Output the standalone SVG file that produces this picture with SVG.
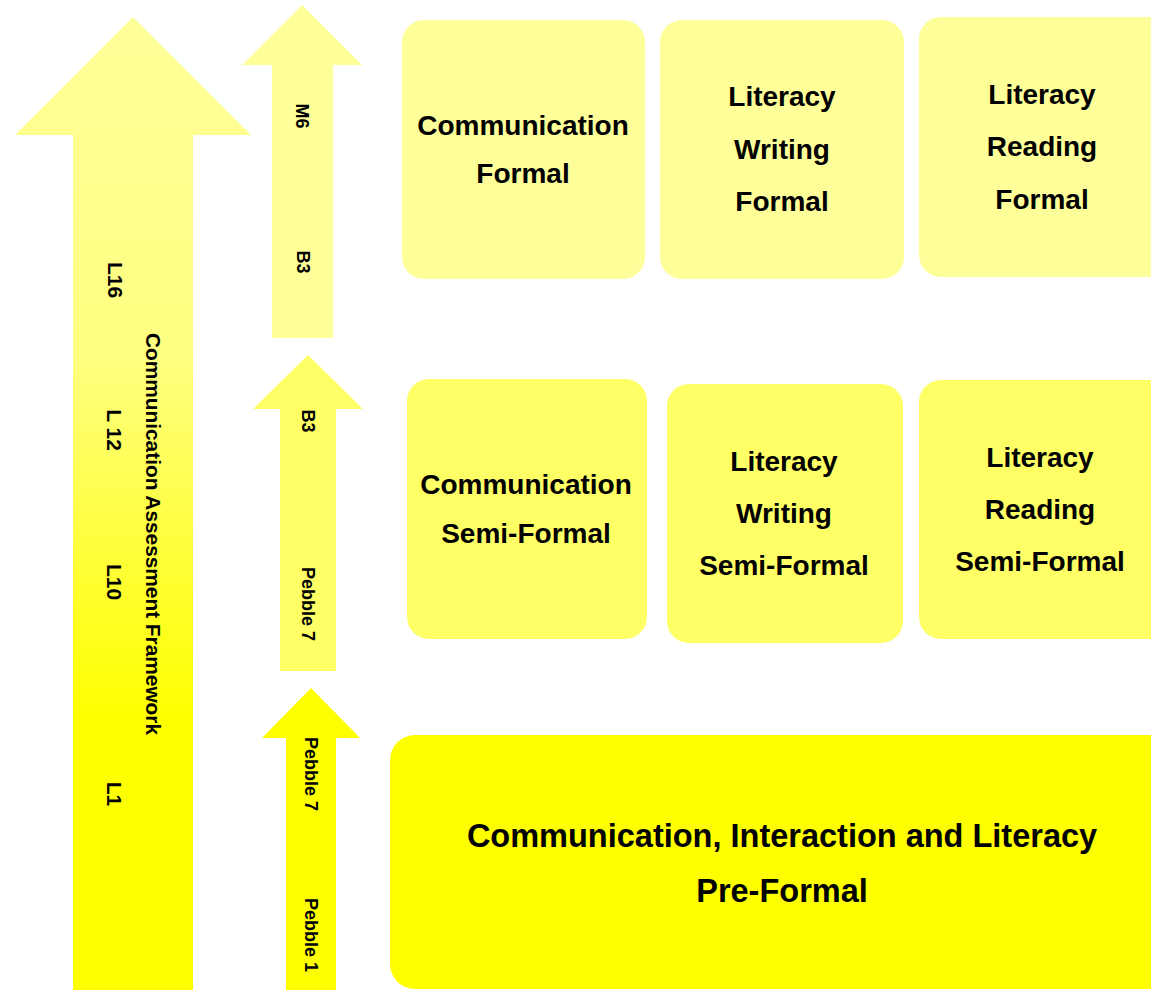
<svg xmlns="http://www.w3.org/2000/svg" width="1151" height="990" viewBox="0 0 1151 990">
<defs>
<linearGradient id="bigGrad" gradientUnits="userSpaceOnUse" x1="0" y1="17" x2="0" y2="990">
<stop offset="0" stop-color="#FFFF99"/>
<stop offset="0.35" stop-color="#FFFF80"/>
<stop offset="0.72" stop-color="#FFFF00"/>
<stop offset="1" stop-color="#FFFF00"/>
</linearGradient>
</defs>
<style>
text{font-family:"Liberation Sans",Arial,sans-serif;font-weight:bold;fill:#000;text-anchor:middle}
.lvl1{fill:#FFFF99}
.lvl2{fill:#FFFF66}
.lvl3{fill:#FFFF00}
.big{font-size:21px}
.small{font-size:18px}
.box{font-size:28px}
.wide{font-size:32.5px}
</style>
<rect width="1151" height="990" fill="#FFFFFF"/>

<g id="arrow-caf">
<polygon points="133,17 251,135 193,135 193,990 73,990 73,135 15,135" fill="url(#bigGrad)"/>
<text class="big" transform="translate(108,280) rotate(90)">L16</text>
<text class="big" transform="translate(107,430) rotate(90)">L 12</text>
<text class="big" transform="translate(107,582) rotate(90)">L10</text>
<text class="big" transform="translate(107,794) rotate(90)">L1</text>
<text class="big" transform="translate(146,534) rotate(90)" textLength="402" lengthAdjust="spacingAndGlyphs">Communication Assessment Framework</text>
</g>

<g id="arrow-formal">
<polygon class="lvl1" points="302,5 362,65 333,65 333,338 272,338 272,65 242,65"/>
<text class="small" transform="translate(296,116) rotate(90)">M6</text>
<text class="small" transform="translate(297,262) rotate(90)">B3</text>
</g>

<g id="arrow-semiformal">
<polygon class="lvl2" points="308,355 363,409 336,409 336,671 280,671 280,409 253,409"/>
<text class="small" transform="translate(302,421) rotate(90)">B3</text>
<text class="small" transform="translate(302,604) rotate(90)">Pebble 7</text>
</g>

<g id="arrow-preformal">
<polygon class="lvl3" points="311,688 360,738 336,738 336,990 286,990 286,738 262,738"/>
<text class="small" transform="translate(305,774) rotate(90)">Pebble 7</text>
<text class="small" transform="translate(305,935) rotate(90)">Pebble 1</text>
</g>

<g id="box-comm-formal">
<rect class="lvl1" x="402" y="20" width="243" height="259" rx="22"/>
<text class="box" x="523" y="135">Communication</text>
<text class="box" x="523" y="183">Formal</text>
</g>

<g id="box-writing-formal">
<rect class="lvl1" x="660" y="20" width="244" height="259" rx="22"/>
<text class="box" x="782" y="106">Literacy</text>
<text class="box" x="782" y="159">Writing</text>
<text class="box" x="782" y="211">Formal</text>
</g>

<g id="box-reading-formal">
<rect class="lvl1" x="919" y="17" width="260" height="260" rx="22"/>
<text class="box" x="1042" y="104">Literacy</text>
<text class="box" x="1042" y="156">Reading</text>
<text class="box" x="1042" y="209">Formal</text>
</g>

<g id="box-comm-semiformal">
<rect class="lvl2" x="407" y="379" width="240" height="260" rx="22"/>
<text class="box" x="526" y="494">Communication</text>
<text class="box" x="526" y="543">Semi-Formal</text>
</g>

<g id="box-writing-semiformal">
<rect class="lvl2" x="667" y="384" width="236" height="259" rx="22"/>
<text class="box" x="784" y="471">Literacy</text>
<text class="box" x="784" y="523">Writing</text>
<text class="box" x="784" y="575">Semi-Formal</text>
</g>

<g id="box-reading-semiformal">
<rect class="lvl2" x="919" y="380" width="260" height="259" rx="22"/>
<text class="box" x="1040" y="467">Literacy</text>
<text class="box" x="1040" y="519">Reading</text>
<text class="box" x="1040" y="571">Semi-Formal</text>
</g>

<g id="box-preformal">
<rect class="lvl3" x="390" y="735" width="800" height="254" rx="25"/>
<text class="wide" x="782" y="847">Communication, Interaction and Literacy</text>
<text class="wide" x="782" y="902">Pre-Formal</text>
</g>

<g id="connectors"/>
</svg>
